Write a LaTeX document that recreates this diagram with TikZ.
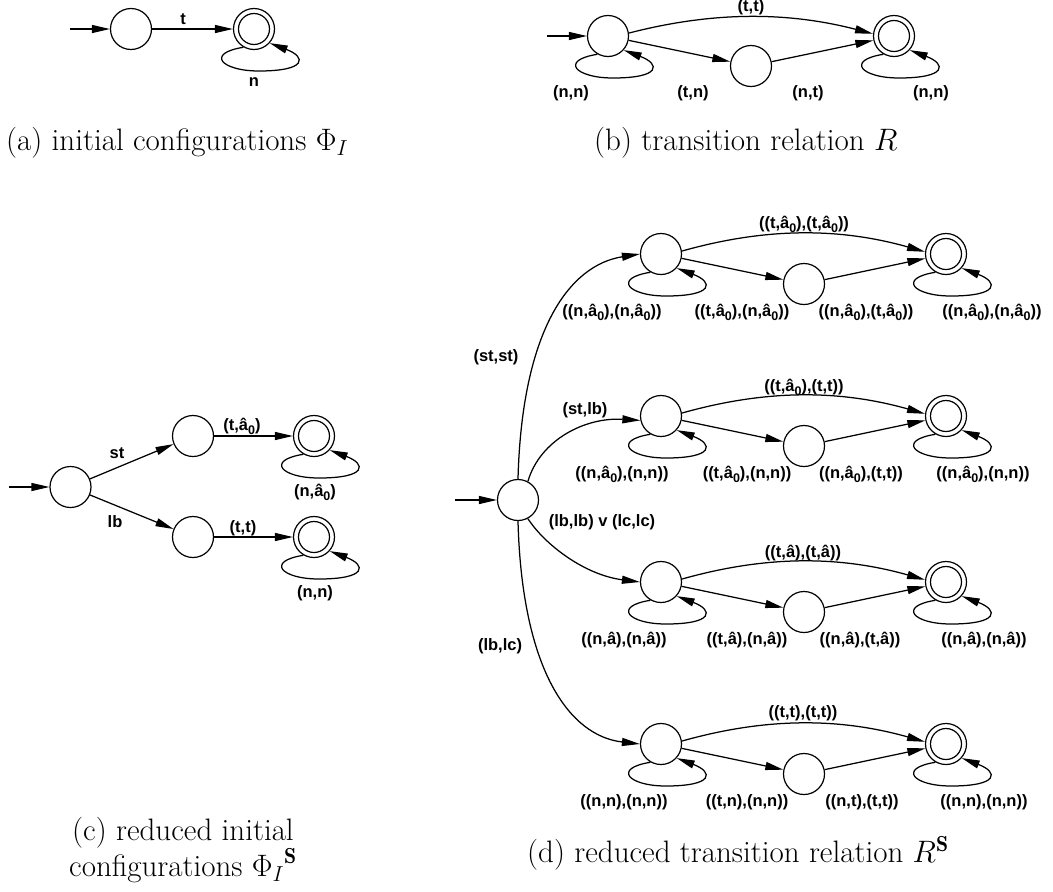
\RequirePackage{fix-cm}
\documentclass[tikz,border=0pt]{standalone}
\usepackage{fontspec}
\usetikzlibrary{arrows.meta,calc}
\newfontfamily\lblfont{Liberation Sans}
\newcommand\az{â\raisebox{-0.45ex}{\fontsize{12.5}{12.5}\selectfont 0}}
\newcommand\sloop[1]{\draw[edg] (#1.240) .. controls +(-38,6) and +(-38,0) .. ($(#1)+(5,42)$) .. controls +(48,0) and +(37,14) .. (#1.-42);}
\begin{document}
\begin{tikzpicture}[x=1pt,y=-1pt,
  stt/.style={circle,draw,line width=1.2pt,minimum size=41pt,inner sep=0pt},
  fin/.style={stt,label={[circle,draw,line width=1.2pt,minimum size=31pt,inner sep=0pt]center:{}}},
  edg/.style={line width=1.25pt,-{Triangle[length=18pt,width=8pt]}},
  lbl/.style={font=\lblfont\bfseries\fontsize{16.5}{19}\selectfont,inner sep=1pt},
  captxt/.style={font=\fontsize{31}{30}\selectfont,align=center,inner sep=0pt},
]
\useasboundingbox (0,0) rectangle (1053,892);

% ---------- (a)
\node[stt] (a1) at (131,29) {};
\node[fin] (a2) at (254,29) {};
\coordinate (a0) at (70,29);
\draw[edg] (a0) -- (a1);
\draw[edg] (a1) -- (a2);
\sloop{a2}
\node[lbl] at (183,19) {t};
\node[lbl] at (254,82) {n};
\node[captxt,anchor=west] at (6,143) {(a) initial configurations $\Phi_I$};

% ---------- (b)
\node[stt] (b1) at (608,36) {};
\node[stt] (b2) at (751,66) {};
\node[fin] (b3) at (894,36) {};
\coordinate (b0) at (547,36);
\draw[edg] (b0) -- (b1);
\draw[edg] (b1.8) .. controls +(85,-22) and +(-85,-22) .. (b3.174);
\draw[edg] (b1) -- (b2);
\draw[edg] (b2) -- (b3);
\sloop{b1}
\sloop{b3}
\node[lbl,inner sep=0pt] at (751,7.5) {(t,t)};
\node[lbl] at (571,93) {(n,n)};
\node[lbl] at (693,93) {(t,n)};
\node[lbl] at (808,93) {(n,t)};
\node[lbl] at (931,93) {(n,n)};
\node[captxt,anchor=west] at (594,143) {(b) transition relation $R$};

% ---------- (c)
\node[stt] (c1) at (70.5,487) {};
\node[stt] (c2) at (193,436) {};
\node[stt] (c3) at (193,537) {};
\node[fin] (c4) at (314,436) {};
\node[fin] (c5) at (314,537) {};
\coordinate (c0) at (9,487);
\draw[edg] (c0) -- (c1);
\draw[edg] (c1) -- (c2);
\draw[edg] (c1) -- (c3);
\draw[edg] (c2) -- (c4);
\draw[edg] (c3) -- (c5);
\sloop{c4}
\sloop{c5}
\node[lbl] at (117,453) {st};
\node[lbl] at (115,522) {lb};
\node[lbl] at (242,426) {(t,\az)};
\node[lbl] at (243,528) {(t,t)};
\node[lbl] at (315,492) {(n,\az)};
\node[lbl] at (315,593) {(n,n)};
\node[captxt] at (183,850) {(c) reduced initial\\configurations ${\Phi_I}^{\mathbf{S}}$};

% ---------- (d)
\node[stt] (s) at (518,500) {};
\coordinate (s0) at (455,500);
\draw[edg] (s0) -- (s);
\foreach \r/\L in {1/312,2/474,3/640,4/802}{
  \node[stt] (A\r) at (661,\L-58) {};
  \node[stt] (B\r) at (804,\L-28) {};
  \node[fin] (C\r) at (946,\L-58) {};
  \draw[edg] (A\r.8) .. controls +(85,-24) and +(-85,-24) .. (C\r.174);
  \draw[edg] (A\r) -- (B\r);
  \draw[edg] (B\r) -- (C\r);
  \sloop{A\r}
  \sloop{C\r}
}
\draw[edg] (s.north) .. controls +(4,-150) and +(-70,11) .. (A1.west);
\draw[edg] (s.62) .. controls (540,440) and (585,417) .. (A2.192);
\draw[edg] (s.-62) .. controls (545,545) and (585,575) .. (A3.west);
\draw[edg] (s.south) .. controls +(4,150) and +(-70,-8) .. (A4.west);
\node[lbl] at (496,357) {(st,st)};
\node[lbl] at (585,410) {(st,lb)};
\node[lbl] at (602,522) {(lb,lb) v (lc,lc)};
\node[lbl] at (500,646) {(lb,lc)};

\node[lbl] at (804,224) {((t,\az),(t,\az))};
\node[lbl] at (612,312) {((n,\az),(n,\az))};
\node[lbl] at (742,312) {((t,\az),(n,\az))};
\node[lbl] at (866,312) {((n,\az),(t,\az))};
\node[lbl] at (992,312) {((n,\az),(n,\az))};

\node[lbl] at (804,387) {((t,\az),(t,t))};
\node[lbl] at (622,474) {((n,\az),(n,n))};
\node[lbl] at (747,474) {((t,\az),(n,n))};
\node[lbl] at (861,474) {((n,\az),(t,t))};
\node[lbl] at (983,474) {((n,\az),(n,n))};

\node[lbl] at (803,553) {((t,â),(t,â))};
\node[lbl] at (624,640) {((n,â),(n,â))};
\node[lbl] at (747,640) {((t,â),(n,â))};
\node[lbl] at (860,640) {((n,â),(t,â))};
\node[lbl] at (984,640) {((n,â),(n,â))};

\node[lbl] at (803,713) {((t,t),(t,t))};
\node[lbl] at (624,802) {((n,n),(n,n))};
\node[lbl] at (747,802) {((t,n),(n,n))};
\node[lbl] at (862,802) {((n,t),(t,t))};
\node[lbl] at (984,802) {((n,n),(n,n))};

\node[captxt,anchor=west] at (527,853) {(d) reduced transition relation $R^{\mathbf{S}}$};
\end{tikzpicture}
\end{document}
